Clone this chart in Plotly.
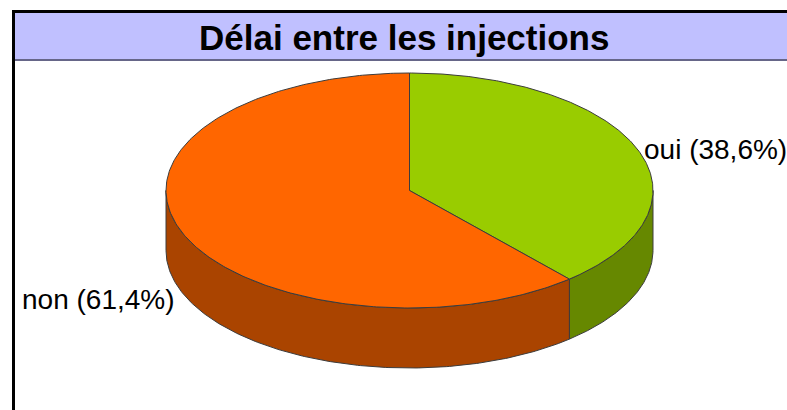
import numpy as np
import plotly.graph_objects as go

# ---- data ----
categories = ["oui", "non"]
values = [38.6, 61.4]
top_colors = ["#99CC00", "#FF6600"]
side_colors = ["#668800", "#AA4400"]
title_text = "Délai entre les injections"

# ---- geometry (pixel space) ----
W, H = 787, 410
cx, cy, rx, ry, depth = 409.5, 190.5, 243.5, 117.5, 60

def pt(theta, dy=0.0):
    return cx + rx * np.sin(theta), cy - ry * np.cos(theta) + dy

total = sum(values)
fracs = [v / total for v in values]
bounds = np.concatenate([[0], np.cumsum(fracs)]) * 2 * np.pi

fig = go.Figure()
edge = dict(color="#3c3c3c", width=1)

# side walls (front half only: pi/2 .. 3pi/2)
for i in range(len(values)):
    a, b = bounds[i], bounds[i + 1]
    s, e = max(a, np.pi / 2), min(b, 3 * np.pi / 2)
    if e <= s:
        continue
    t = np.linspace(s, e, 200)
    xt, yt = pt(t)
    xb, yb = pt(t[::-1], depth)
    fig.add_trace(go.Scatter(
        x=np.concatenate([xt, xb, [xt[0]]]),
        y=np.concatenate([yt, yb, [yt[0]]]),
        mode="lines", fill="toself", fillcolor=side_colors[i],
        line=edge, hoverinfo="skip", showlegend=False))

# top faces
for i in range(len(values)):
    a, b = bounds[i], bounds[i + 1]
    t = np.linspace(a, b, 300)
    xt, yt = pt(t)
    fig.add_trace(go.Scatter(
        x=np.concatenate([[cx], xt, [cx]]),
        y=np.concatenate([[cy], yt, [cy]]),
        mode="lines", fill="toself", fillcolor=top_colors[i],
        line=edge, hoverinfo="skip", showlegend=False))

# labels
for i, cat in enumerate(categories):
    mid = (bounds[i] + bounds[i + 1]) / 2
    front = np.cos(mid) < 0
    x, y = pt(mid, depth if front else 0)
    right = np.sin(mid) >= 0
    txt = f"{cat} ({values[i]:.1f}%)".replace(".", ",")
    fig.add_annotation(
        x=x + (4 if right else -4), y=y + (0 if not front else 8),
        text=txt, showarrow=False,
        xanchor="left" if right else "right", yanchor="middle",
        font=dict(family="Liberation Sans, Arial", size=28, color="#000000"))

# frame & title band
fig.add_shape(type="rect", x0=13.5, x1=W + 20, y0=11.5, y1=60,
              fillcolor="#C0C0FF", line=dict(width=0), layer="below")
fig.add_shape(type="line", x0=13.5, x1=W + 20, y0=60, y1=60,
              line=dict(color="#666688", width=2))
fig.add_shape(type="line", x0=12, x1=W + 20, y0=11.5, y1=11.5,
              line=dict(color="#000000", width=3))
fig.add_shape(type="line", x0=13.5, x1=13.5, y0=10, y1=H + 20,
              line=dict(color="#000000", width=3))
fig.add_annotation(x=404, y=37, text=f"<b>{title_text}</b>", showarrow=False,
                   xanchor="center", yanchor="middle",
                   font=dict(family="Liberation Sans, Arial", size=35, color="#000000"))

fig.update_layout(
    width=W, height=H, autosize=False,
    margin=dict(l=0, r=0, t=0, b=0),
    paper_bgcolor="#FFFFFF", plot_bgcolor="#FFFFFF",
    xaxis=dict(range=[0, W], visible=False, fixedrange=True),
    yaxis=dict(range=[H, 0], visible=False, fixedrange=True),
    showlegend=False,
)
fig.write_html("out.html", config={"displayModeBar": False},
               post_script="document.body.style.margin='0';document.body.style.overflow='hidden';")
